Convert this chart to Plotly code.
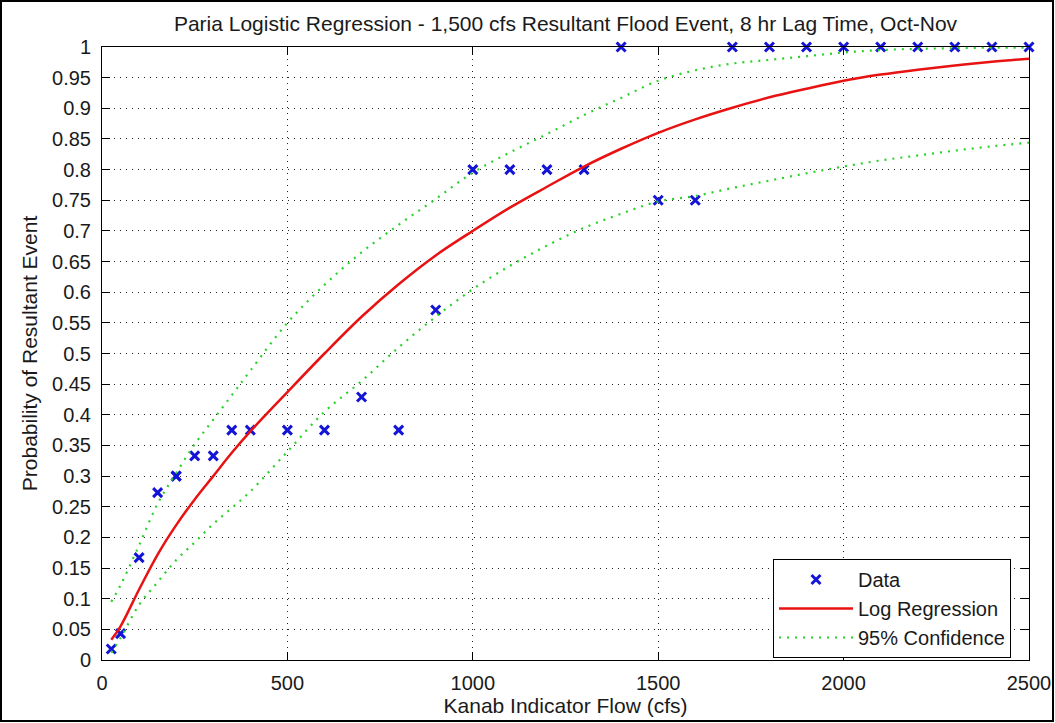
import plotly.graph_objects as go

# ---- data ----
data_flow = [25, 50, 100, 150, 200, 200, 250, 300, 350, 400, 500, 600, 700, 800, 900,
             1000, 1100, 1200, 1300, 1400, 1500, 1600, 1700, 1800, 1900, 2000,
             2100, 2200, 2300, 2400, 2500]
data_prob = [0.018, 0.043, 0.167, 0.273, 0.3, 0.3, 0.333, 0.333, 0.375, 0.375, 0.375, 0.375,
             0.429, 0.375, 0.571, 0.8, 0.8, 0.8, 0.8, 1.0, 0.75, 0.75, 1.0, 1.0, 1.0, 1.0,
             1.0, 1.0, 1.0, 1.0, 1.0]

curve_flow = [25, 50, 100, 150, 200, 250, 300, 350, 400, 500, 600, 700, 800, 900, 1000,
              1100, 1200, 1300, 1400, 1500, 1600, 1700, 1800, 1900, 2000, 2100, 2200,
              2300, 2400, 2500]
fit_prob = [0.033, 0.055, 0.115, 0.172, 0.220, 0.262, 0.300, 0.338, 0.373, 0.437, 0.500,
            0.560, 0.613, 0.660, 0.700, 0.738, 0.772, 0.805, 0.834, 0.860, 0.882, 0.901,
            0.918, 0.932, 0.945, 0.955, 0.963, 0.970, 0.976, 0.981]
upper_prob = [0.095, 0.122, 0.187, 0.255, 0.305, 0.352, 0.392, 0.432, 0.472, 0.550, 0.612,
              0.665, 0.710, 0.752, 0.795, 0.828, 0.858, 0.889, 0.917, 0.945, 0.962, 0.973,
              0.979, 0.985, 0.991, 0.995, 0.997, 0.998, 0.999, 0.999]
lower_prob = [0.012, 0.036, 0.090, 0.127, 0.163, 0.192, 0.222, 0.248, 0.275, 0.340, 0.405,
              0.455, 0.510, 0.560, 0.605, 0.643, 0.676, 0.705, 0.728, 0.748, 0.757, 0.770,
              0.782, 0.794, 0.805, 0.815, 0.823, 0.831, 0.838, 0.844]

x_ticks = [0, 500, 1000, 1500, 2000, 2500]
x_ticklabels = ["0", "500", "1000", "1500", "2000", "2500"]
y_ticks = [0, 0.05, 0.1, 0.15, 0.2, 0.25, 0.3, 0.35, 0.4, 0.45, 0.5, 0.55, 0.6, 0.65,
           0.7, 0.75, 0.8, 0.85, 0.9, 0.95, 1]
y_ticklabels = ["0", "0.05", "0.1", "0.15", "0.2", "0.25", "0.3", "0.35", "0.4", "0.45",
                "0.5", "0.55", "0.6", "0.65", "0.7", "0.75", "0.8", "0.85", "0.9", "0.95", "1"]

FONT = "Liberation Sans, Arial, sans-serif"
TXT = "#1a1a1a"
GREEN = "rgb(40,210,40)"

fig = go.Figure()
fig.add_trace(go.Scatter(
    x=data_flow, y=data_prob, mode="markers", name="Data",
    marker=dict(symbol="x-thin", size=9, line=dict(width=3, color="rgb(20,20,215)"),
                color="rgb(20,20,215)"),
    cliponaxis=False))
fig.add_trace(go.Scatter(
    x=curve_flow, y=fit_prob, mode="lines", name="Log Regression",
    line=dict(color="rgb(232,18,18)", width=2.5, shape="spline")))
fig.add_trace(go.Scatter(
    x=curve_flow, y=upper_prob, mode="lines", name="95% Confidence",
    legendgroup="ci",
    line=dict(color=GREEN, width=2.2, dash="2px,6px", shape="spline")))
fig.add_trace(go.Scatter(
    x=curve_flow, y=lower_prob, mode="lines", name="95% Confidence",
    legendgroup="ci", showlegend=False,
    line=dict(color=GREEN, width=2.2, dash="2px,6px", shape="spline")))

W, H = 1055, 723
ML, MR, MT, MB = 102, 26, 47, 63
pw, ph = W - ML - MR, H - MT - MB

axis_common = dict(
    showline=True, linecolor="black", linewidth=1, mirror="ticks",
    ticks="inside", ticklen=8, tickcolor="black", tickwidth=1,
    showgrid=True, gridcolor="#222", gridwidth=1, griddash="1px,5px",
    zeroline=False, automargin=False, tickfont=dict(family=FONT, size=20, color=TXT),
)

fig.update_xaxes(range=[0, 2500], tickvals=x_ticks, ticktext=x_ticklabels,
                 title=dict(text="Kanab Indicator Flow (cfs)", standoff=3,
                            font=dict(family=FONT, size=21, color=TXT)),
                 ticklabelstandoff=5, **axis_common)
fig.update_yaxes(range=[0, 1], tickvals=y_ticks, ticktext=y_ticklabels,
                 title=dict(text="Probability of Resultant Event", standoff=8,
                            font=dict(family=FONT, size=21, color=TXT)),
                 ticklabelstandoff=6, **axis_common)

fig.update_layout(
    width=W, height=H,
    margin=dict(l=ML, r=MR, t=MT, b=MB, pad=0, autoexpand=False),
    paper_bgcolor="white", plot_bgcolor="white",
    title=dict(text="Paria Logistic Regression - 1,500 cfs Resultant Flood Event, 8 hr Lag Time, Oct-Nov",
               x=(ML + pw / 2) / W, xanchor="center", y=1 - 24 / H, yanchor="middle",
               yref="container", font=dict(family=FONT, size=21, color=TXT)),
    legend=dict(x=(773 - ML) / pw, y=(H - MB - 559) / ph, xanchor="left", yanchor="top",
                bgcolor="white", bordercolor="black", borderwidth=1,
                font=dict(family=FONT, size=20, color=TXT), itemwidth=74,
                tracegroupgap=0),
    showlegend=True,
    shapes=[dict(type="rect", xref="paper", yref="paper",
                 x0=(1 - ML) / pw, x1=(W - 2 - ML) / pw,
                 y0=(H - MB - (H - 2)) / ph, y1=(H - MB - 1) / ph,
                 line=dict(color="black", width=2), layer="above")],
)

fig.write_html("out.html", config={"displayModeBar": False},
               post_script="document.body.style.margin='0';document.body.style.overflow='hidden';")
